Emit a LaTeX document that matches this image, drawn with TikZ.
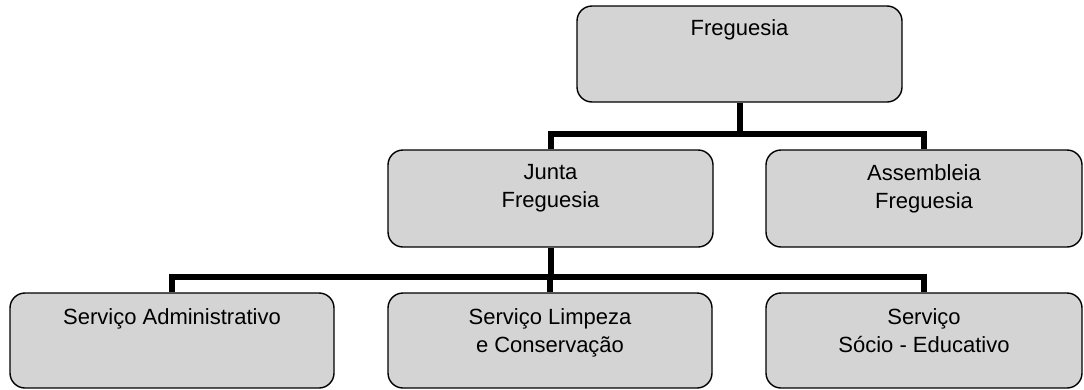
\documentclass[tikz,border=0pt]{standalone}
\usepackage{fontspec}
\setmainfont{Liberation Sans}
\usetikzlibrary{calc}
\definecolor{boxfill}{RGB}{212,212,212}
\tikzset{
  orgbox/.style={draw=black, line width=1.4pt, fill=boxfill, rounded corners=15pt, inner sep=0pt},
  conn/.style={draw=black, line width=6pt, line join=miter},
  lbl/.style={inner sep=0pt, anchor=north, align=center, font=\fontsize{22}{28}\selectfont}
}
\begin{document}
\begin{tikzpicture}[x=1pt,y=-1pt]
\useasboundingbox (0,0) rectangle (1084,389);
% boxes
\node[orgbox, minimum width=325pt, minimum height=96pt] (F) at (739.5,54) {};
\node[orgbox, minimum width=325pt, minimum height=97pt] (J) at (550.5,198.5) {};
\node[orgbox, minimum width=316pt, minimum height=97pt] (A) at (924,198.5) {};
\node[orgbox, minimum width=324pt, minimum height=95pt] (S1) at (172,340.5) {};
\node[orgbox, minimum width=324pt, minimum height=95pt] (S2) at (550,340.5) {};
\node[orgbox, minimum width=316pt, minimum height=95pt] (S3) at (924,340.5) {};
% labels
\node[lbl] (tF) at (739.5,19) {Freguesia};
\node[lbl] (tJ) at (550.5,164) {Junta\\Freguesia};
\node[lbl] (tA) at (924,164) {Assembleia\\Freguesia};
\node[lbl] (tS1) at (172,308) {Serviço Administrativo};
\node[lbl] (tS2) at (550,308) {Serviço Limpeza\\e Conservação};
\node[lbl] (tS3) at (924,308) {Serviço\\Sócio - Educativo};
% bars
\coordinate (bar1) at (0,134);
\coordinate (bar2) at (0,277);
\draw[conn] (F.south) -- (F.south |- bar1);
\draw[conn] (J.north) -- (J.north |- bar1) -- (A.north |- bar1) -- (A.north);
\draw[conn] (J.south) -- (J.south |- bar2);
\draw[conn] (S1.north) -- (S1.north |- bar2) -- (S3.north |- bar2) -- (S3.north);
\draw[conn] (S2.north) -- (S2.north |- bar2);
\end{tikzpicture}
\end{document}
